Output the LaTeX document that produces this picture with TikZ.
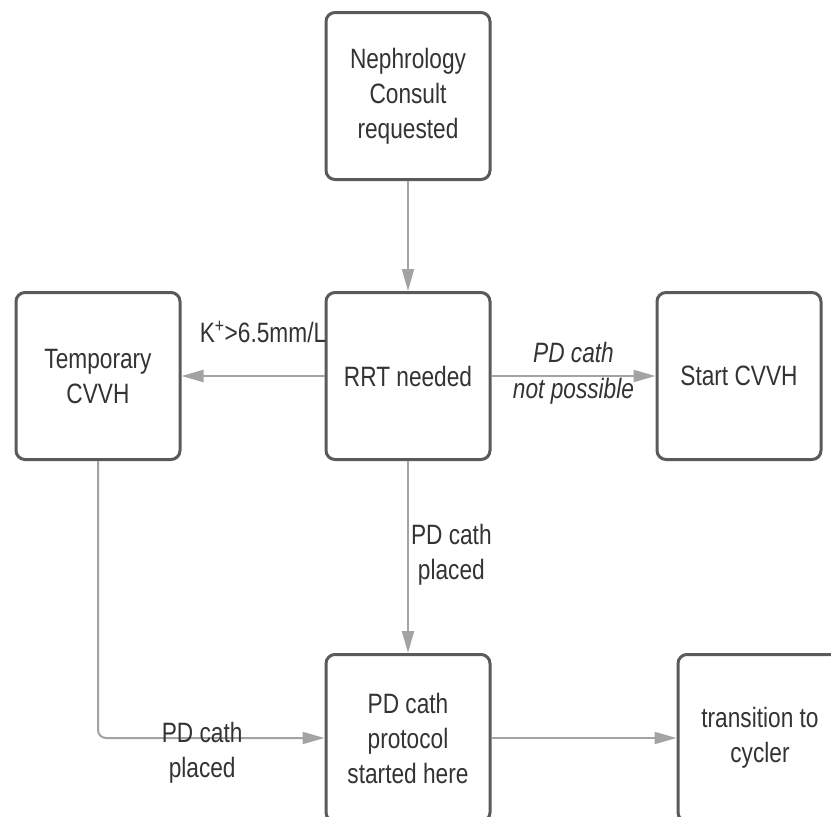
\documentclass[tikz,border=0pt]{standalone}
\usepackage{fontspec}
\setmainfont{Liberation Sans}[FakeStretch=0.81]
\usetikzlibrary{positioning,arrows.meta}

\definecolor{boxgray}{HTML}{5A5A5A}
\definecolor{arrowgray}{HTML}{A3A3A3}
\definecolor{textgray}{HTML}{333333}
\newcommand{\flowfont}{\fontsize{28}{35}\selectfont}

\begin{document}
\begin{tikzpicture}[
  x=1pt, y=-1pt,
  >={Triangle[length=22pt,width=12pt]},
  box/.style={draw=boxgray, line width=3pt, rounded corners=9pt, minimum width=164pt,
    minimum height=167pt, align=center, text=textgray, font=\flowfont},
  flow/.style={->, arrowgray, line width=2pt},
  lbl/.style={text=textgray, font=\flowfont, align=center, inner sep=2pt}
]
\useasboundingbox (0,0) rectangle (831,817);

% Boxes
\node[box] (neph)      at (408,96)  {Nephrology\\Consult\\requested};
\node[box] (rrt)       at (408,376) {RRT needed};
\node[box] (tempcvvh)  at (98,376)  {Temporary\\CVVH};
\node[box] (startcvvh) at (739,376) {Start CVVH};
\node[box] (pdproto)   at (408,738) {PD cath\\protocol\\started here};
% last box runs off the right edge
\node[box, minimum width=200pt] (cycler) at (778,738) {};
\node[lbl] (cyclertext) at (760,738) {transition to\\cycler};

% Connectors
\draw[flow] (neph) -- (rrt);
\draw[flow] (rrt) -- node[lbl, pos=0.43, anchor=base, yshift=34pt] (klabel) {K\textsuperscript{+}>6.5mm/L} (tempcvvh);
\draw[flow] (rrt) -- node[lbl, midway, anchor=base, yshift=14pt] (notpd1) {\itshape PD cath}
                     node[lbl, midway, anchor=base, yshift=-22pt] (notpd2) {\itshape not possible} (startcvvh);
\draw[flow] (rrt) -- node[lbl, pos=0.49, anchor=west] (placed1) {PD cath\\placed} (pdproto);
\draw[flow, rounded corners=8pt] (tempcvvh) |- node[lbl, pos=0.73, yshift=-15pt] (placed2) {PD cath\\placed} (pdproto);
\draw[flow] (pdproto) -- (cycler);

\end{tikzpicture}
\end{document}
